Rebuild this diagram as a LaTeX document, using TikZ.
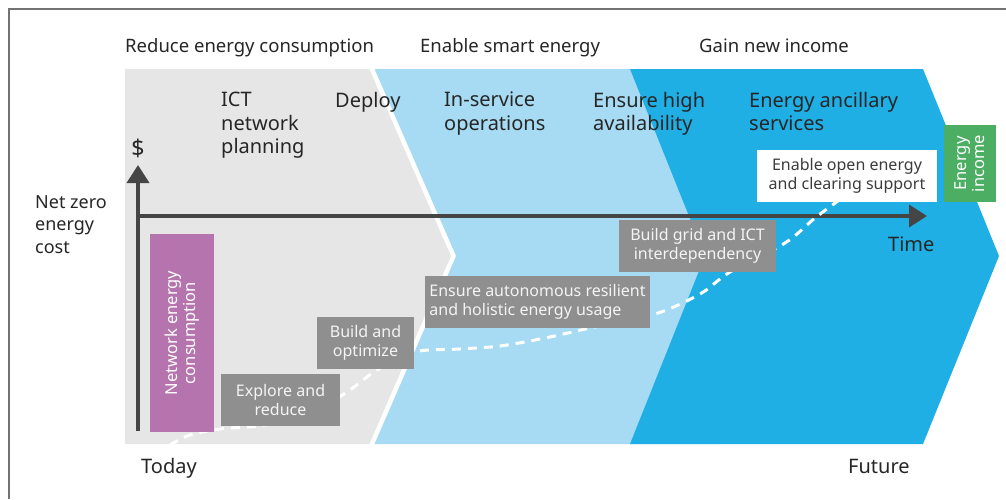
\documentclass[tikz,border=0pt]{standalone}
\usepackage{fontspec}
\setmainfont{Noto Sans}
\usetikzlibrary{arrows.meta}

\definecolor{bggray}{HTML}{E6E6E6}
\definecolor{lightblue}{HTML}{A7DBF3}
\definecolor{darkblue}{HTML}{1FAFE5}
\definecolor{boxgray}{HTML}{8F8F8F}
\definecolor{purplebox}{HTML}{B574AE}
\definecolor{greenbox}{HTML}{4CAE62}
\definecolor{axisgray}{HTML}{454545}
\definecolor{textdark}{HTML}{262626}
\definecolor{boxtext}{HTML}{F4F4F4}
\definecolor{framegray}{HTML}{737373}

\tikzset{
  header/.style={anchor=base west, text=textdark, inner sep=0pt,
    font=\fontsize{18.5}{22}\selectfont},
  phase/.style={anchor=north west, align=left, text=textdark, inner sep=0pt,
    font=\fontsize{20}{23.5}\selectfont},
  sidelabel/.style={anchor=north west, align=left, text=textdark, inner sep=0pt,
    font=\fontsize{18}{22.5}\selectfont},
  axislabel/.style={anchor=base west, text=textdark, inner sep=0pt,
    font=\fontsize{20}{24}\selectfont},
  stepbox/.style={fill=boxgray, text=boxtext, align=center, inner sep=0pt,
    font=\fontsize{16}{18.5}\selectfont},
  notebox/.style={fill=white, text=textdark!90, align=center, inner sep=0pt,
    font=\fontsize{16}{18.5}\selectfont},
  tagbox/.style={text=white, align=center, inner sep=0pt, rotate=90,
    font=\fontsize{16.5}{18}\selectfont},
  axis/.style={draw=axisgray, line width=3.8pt,
    -{Triangle[length=18pt,width=22pt]}},
  trend/.style={draw=white, line width=3pt, dash pattern=on 9pt off 7pt},
}

\begin{document}
\begin{tikzpicture}[x=1pt,y=-1pt]
\useasboundingbox (0,0) rectangle (1006,499);

% outer frame (top and left edges)
\draw[framegray, line width=1.4pt] (9,499) -- (9,9) -- (1006,9);

% phase bands
\fill[lightblue] (369,69) -- (720,69) -- (740,256) -- (720,444) -- (369,444) -- cycle;
\fill[darkblue] (630,69) -- (923,69) -- (999,256) -- (923,444) -- (630,444) -- (705,256) -- cycle;
\fill[bggray] (125,69) -- (371,69) -- (453,256) -- (371,444) -- (125,444) -- cycle;
\draw[white, line width=4.5pt] (371.5,68) -- (453.5,256) -- (371.5,445);

% headers
\node[header] (hreduce) at (125,52) {Reduce energy consumption};
\node[header] (hsmart) at (420,52) {Enable smart energy};
\node[header] (hincome) at (699,52) {Gain new income};

% phase labels
\node[phase] (plan) at (221,92) {ICT\\network\\planning};
\node[phase] (deploy) at (335,92) {Deploy};
\node[phase] (inservice) at (444,92) {In-service\\operations};
\node[phase] (avail) at (593,92) {Ensure high\\availability};
\node[phase] (ancillary) at (749,92) {Energy ancillary\\services};

% side label
\node[sidelabel] (netzero) at (35,195) {Net zero\\energy\\cost};

% axes
\coordinate (origin) at (138,431);
\coordinate (ytip) at (138,165);
\coordinate (xstart) at (136.1,216);
\coordinate (xtip) at (927,216);
\draw[axis] (origin) -- (ytip);
\draw[axis] (xstart) -- (xtip);
\node[text=textdark, inner sep=0pt, font=\fontsize{23}{26}\selectfont] (dollar) at (138,148) {\$};
\node[axislabel] (time) at (888,251) {Time};
\node[axislabel] (today) at (141,473) {Today};
\node[axislabel] (future) at (848,473) {Future};

% energy cost trend
\coordinate (t0) at (170,445);
\coordinate (t1) at (190,435);
\coordinate (t2) at (220,429);
\coordinate (t3) at (265,425);
\coordinate (t4) at (312,412);
\coordinate (t5) at (347,392);
\coordinate (t6) at (377,370);
\coordinate (t7) at (414,352);
\coordinate (t8) at (460,349);
\coordinate (t9) at (500,346);
\coordinate (t10) at (545,338);
\coordinate (t11) at (590,328);
\coordinate (t12) at (655,314);
\coordinate (t13) at (700,294);
\coordinate (t14) at (730,272);
\coordinate (t15) at (785,243);
\coordinate (t16) at (815,218);
\coordinate (t17) at (842,198);
\draw[trend] plot[smooth, tension=0.55] coordinates {(t0) (t1) (t2) (t3) (t4) (t5) (t6) (t7) (t8) (t9) (t10) (t11) (t12) (t13) (t14) (t15) (t16) (t17)};

% milestone boxes
\node[stepbox, minimum width=119pt, minimum height=52pt] (explore) at (280.5,400) {Explore and\\reduce};
\node[stepbox, minimum width=97pt, minimum height=52pt] (optimize) at (365.5,343) {Build and\\optimize};
\node[stepbox, align=left, minimum width=225pt, minimum height=52pt] (autonomous) at (537.5,302) {Ensure autonomous resilient\\and holistic energy usage};
\node[stepbox, minimum width=157pt, minimum height=52pt] (grid) at (697.5,246) {Build grid and ICT\\interdependency};
\node[notebox, minimum width=180pt, minimum height=52pt] (openenergy) at (847,176) {Enable open energy\\and clearing support};

% vertical tags
\node[tagbox, fill=purplebox, minimum width=198pt, minimum height=64pt] (netcons) at (182,333) {Network energy\\consumption};
\node[tagbox, fill=greenbox, minimum width=77pt, minimum height=52pt] (income) at (970,163.5) {Energy\\income};

\end{tikzpicture}
\end{document}
